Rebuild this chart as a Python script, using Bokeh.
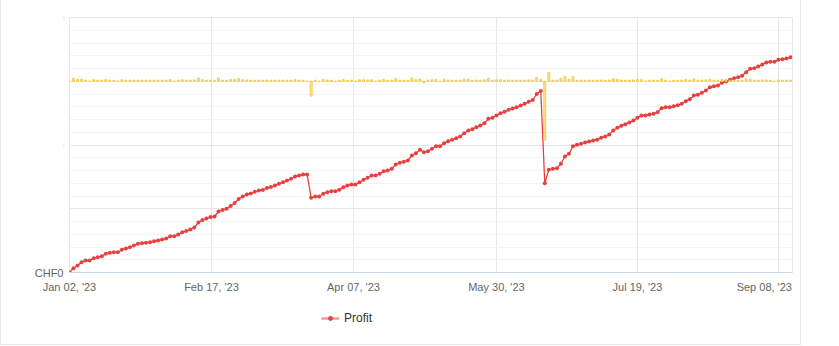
import numpy as np
from bokeh.plotting import figure
from bokeh.layouts import column
from bokeh.models import Range1d, FixedTicker, Legend, LegendItem, LinearAxis
from bokeh.embed import file_html
from bokeh.resources import INLINE

# ---------------- data ----------------
# x-axis date labels and the trading-day index at which each one sits
tick_labels = ["Jan 02, '23", "Feb 17, '23", "Apr 07, '23", "May 30, '23", "Jul 19, '23", "Sep 08, '23"]
tick_index = [0, 35.25, 70.5, 106, 141, 176]

# cumulative profit (CHF), one value per trading day
profit = [
    0, 430, 700, 1030, 1200, 1200, 1430, 1530, 1630, 1870,
    1970, 2030, 2030, 2270, 2400, 2530, 2700, 2870, 2930, 2970,
    3030, 3130, 3200, 3300, 3400, 3630, 3630, 3800, 4030, 4150,
    4300, 4500, 5000, 5250, 5400, 5550, 5600, 6100, 6250, 6370,
    6650, 6950, 7350, 7600, 7800, 7900, 8070, 8200, 8250, 8450,
    8550, 8700, 8870, 9030, 9200, 9370, 9600, 9700, 9800, 9800,
    7470, 7600, 7600, 7870, 8030, 8130, 8130, 8270, 8530, 8700,
    8800, 8800, 9030, 9270, 9470, 9700, 9700, 9870, 10130, 10200,
    10370, 10800, 10970, 11070, 11200, 11700, 11930, 12270, 12030, 12130,
    12370, 12630, 12630, 12930, 13130, 13270, 13430, 13600, 13930, 14200,
    14330, 14530, 14700, 14930, 15370, 15470, 15700, 15930, 16070, 16270,
    16400, 16530, 16700, 16870, 17070, 17250, 17850, 18150, 8930, 10270,
    10370, 10430, 10870, 11600, 11870, 12630, 12770, 12870, 13000, 13100,
    13200, 13270, 13470, 13600, 13800, 14200, 14470, 14670, 14830, 15000,
    15200, 15470, 15700, 15700, 15800, 15870, 16030, 16430, 16530, 16530,
    16630, 16730, 16870, 17130, 17330, 17700, 17770, 17970, 18200, 18530,
    18630, 18700, 18970, 19100, 19270, 19430, 19530, 19670, 20030, 20370,
    20430, 20600, 20800, 21000, 21070, 21070, 21270, 21330, 21400, 21530,
]

# y-axis ticks (profit axis)
y_ticks = [0, 12750, 25500]
y_tick_labels = ["CHF0", "", ""]

series_name = "Profit"

# ---------------- derived ----------------
idx = np.arange(len(profit))
profit_arr = np.array(profit, dtype=float)
daily = np.diff(profit_arr, prepend=0.0)          # daily P&L shown as columns
bar_top = np.where(daily > 0, np.maximum(daily, 160), daily)  # min visible height

RED = "#e8403f"
GRID = "#e6e6e6"
FONT = "Liberation Sans"
BORDER = "1px solid #e6e6e6"

p = figure(width=801, height=300, output_backend="svg", toolbar_location=None,
           x_range=Range1d(0, 179.5), y_range=Range1d(0, 25500),
           min_border_left=68, min_border_right=10, min_border_top=17,
           min_border_bottom=28)
p.styles = {"border-left": BORDER, "border-right": BORDER}
p.outline_line_color = GRID
p.background_fill_color = "white"
p.border_fill_color = "white"

# secondary range for the daily P&L columns
p.extra_y_ranges = {"pnl": Range1d(-30000, 10000)}

# grids
p.ygrid.ticker = FixedTicker(ticks=[0, 6375, 12750, 19125, 25500],
                             minor_ticks=list(np.arange(0, 25501, 1275)))
p.ygrid.grid_line_color = GRID
p.ygrid.minor_grid_line_color = "#f3f3f3"
p.xgrid.ticker = FixedTicker(ticks=tick_index)
p.xgrid.grid_line_color = GRID

# line + markers
p.line(idx, profit_arr, line_color=RED, line_width=1.3)
p.scatter(idx, profit_arr, size=4, color=RED, line_width=0)

# daily columns
p.vbar(x=idx, width=0.48, bottom=0, top=bar_top, y_range_name="pnl",
       fill_color="#fce49a", line_color="#f5c63f", line_width=0.9)

# x axis
label_pos = list(tick_index[:-1]) + [tick_index[-1] - 3.5]
xa = p.xaxis[0]
xa.ticker = FixedTicker(ticks=label_pos)
xa.major_label_overrides = {t: l for t, l in zip(label_pos, tick_labels)}
xa.axis_line_color = "#ccd6eb"
xa.major_tick_line_color = None
xa.minor_tick_line_color = None
xa.major_tick_out = 0
xa.minor_tick_out = 0
xa.major_label_text_font = FONT
xa.major_label_text_font_size = "11px"
xa.major_label_text_color = "#666666"
xa.major_label_standoff = 8

# inner y axis: only the faint marks at the hidden tick labels
ym = p.yaxis[0]
ym.ticker = FixedTicker(ticks=y_ticks)
ym.major_label_overrides = {t: ("|" if l == "" else "") for t, l in zip(y_ticks, y_tick_labels)}
ym.axis_line_color = None
ym.major_tick_line_color = None
ym.minor_tick_line_color = None
ym.major_tick_out = 0
ym.minor_tick_out = 0
ym.major_label_text_font = FONT
ym.major_label_text_font_size = "5px"
ym.major_label_text_color = "#cccccc"
ym.major_label_standoff = 5

# outer y axis: the visible labels
ya = LinearAxis(ticker=FixedTicker(ticks=y_ticks))
ya.major_label_overrides = {t: l for t, l in zip(y_ticks, y_tick_labels)}
ya.axis_line_color = None
ya.major_tick_line_color = None
ya.minor_tick_line_color = None
ya.major_tick_out = 0
ya.minor_tick_out = 0
ya.major_label_text_font = FONT
ya.major_label_text_font_size = "11px"
ya.major_label_text_color = "#666666"
ya.major_label_standoff = -3
p.add_layout(ya, "left")

# ---------------- legend strip ----------------
q = figure(width=801, height=45, output_backend="svg", toolbar_location=None,
           x_range=Range1d(0, 1), y_range=Range1d(0, 1),
           x_axis_location=None, y_axis_location=None,
           min_border=0, outline_line_color=None)
q.styles = {"border-left": BORDER, "border-right": BORDER, "border-bottom": BORDER}
q.grid.visible = False
# legend sample glyphs (drawn outside the visible range of this strip)
leg_line = q.line([-5, -4], [-5, -5], line_color=RED, line_alpha=0.55, line_width=2.5)
leg_dot = q.scatter([-5], [-5], size=4, color=RED, line_width=0)
legend = Legend(items=[LegendItem(label=series_name, renderers=[leg_line, leg_dot])],
                location=(252, 20), orientation="horizontal",
                border_line_color=None, background_fill_alpha=0,
                padding=0, margin=0, spacing=0,
                glyph_width=18, glyph_height=12, label_standoff=5,
                label_text_font=FONT, label_text_font_size="12px",
                label_text_color="#333333")
q.add_layout(legend)

layout = column(p, q, spacing=0)
open("out.html", "w").write(file_html(layout, INLINE))
